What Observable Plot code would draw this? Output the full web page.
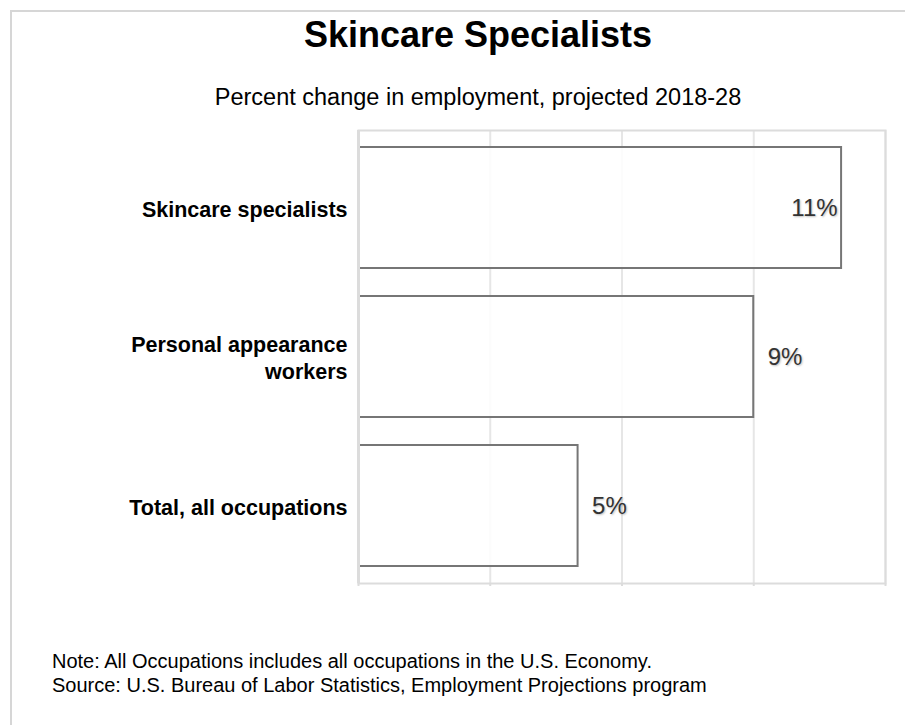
<!DOCTYPE html>
<html>
<head>
<meta charset="utf-8">
<script src="https://cdn.jsdelivr.net/npm/d3@7"></script>
<script src="https://cdn.jsdelivr.net/npm/@observablehq/plot@0.6"></script>
<style>
  html, body { margin: 0; padding: 0; background: #fff; }
  body { width: 905px; height: 725px; position: relative; overflow: hidden; font-family: "Liberation Sans", Arial, sans-serif; }
  #card { position: absolute; left: 10px; top: 10px; width: 905px; height: 725px; border-left: 2px solid #d6d6d6; border-top: 2px solid #d6d6d6; }
  #chart { position: absolute; left: 0; top: 0; }
  #title { position: absolute; left: 0; width: 956px; top: 14px; line-height: 42px; text-align: center; font-weight: bold; font-size: 36px; color: #000; }
  #subtitle { position: absolute; left: 0; width: 956px; top: 83px; line-height: 28px; text-align: center; font-size: 23.5px; color: #000; }
  #notes { position: absolute; left: 52px; top: 649px; font-size: 20px; line-height: 24px; color: #000; }
  .vals text { text-shadow: 1px 1px 2px rgba(0,0,0,0.25); }
</style>
</head>
<body>
<div id="card"></div>
<div id="chart"></div>
<div id="title"></div>
<div id="subtitle"></div>
<div id="notes"></div>
<script>
const titleText = "Skincare Specialists";
const subtitleText = "Percent change in employment, projected 2018-28";
const noteLines = [
  "Note: All Occupations includes all occupations in the U.S. Economy.",
  "Source: U.S. Bureau of Labor Statistics, Employment Projections program"
];
const categories = ["Skincare specialists", "Personal appearance\nworkers", "Total, all occupations"];
const values = [11, 9, 5];
const valueLabels = ["11%", "9%", "5%"];
const xTicks = [0, 3, 6, 9, 12];

document.getElementById("title").textContent = titleText;
document.getElementById("subtitle").textContent = subtitleText;
document.getElementById("notes").innerHTML = noteLines.map(s => `<div>${s}</div>`).join("");

const data = categories.map((c, i) => ({cat: c, value: values[i], label: valueLabels[i]}));
const inside = data.filter(d => d.value === d3.max(values));
const outside = data.filter(d => d.value !== d3.max(values));

const chart = Plot.plot({
  width: 905,
  height: 600,
  marginLeft: 358,
  marginRight: 20,
  marginTop: 130,
  marginBottom: 17,
  style: {fontFamily: "Liberation Sans, Arial, sans-serif", background: "transparent"},
  x: {domain: [0, 12], axis: null, label: null},
  y: {domain: categories, axis: null, label: null, paddingInner: 0.19, paddingOuter: 0.107},
  marks: [
    Plot.ruleX(xTicks, {stroke: "#e6e6e6", strokeWidth: 2}),
    Plot.axisX({ticks: xTicks, tickSize: 3, tickFormat: () => "", label: null, stroke: "#dcdcdc", strokeWidth: 2, strokeOpacity: 1}),
    Plot.barX(data, {x: "value", y: "cat", fill: "white", fillOpacity: 0.85, stroke: "#767676", strokeWidth: 2}),
    Plot.frame({stroke: "#dcdcdc", strokeWidth: 2}),
    Plot.ruleX([0], {stroke: "#dcdcdc", strokeWidth: 3}),
    Plot.text(data, {x: 0, y: "cat", text: "cat", textAnchor: "end", dx: -11, fontWeight: "bold", fontSize: 21.5, lineHeight: 1.26, fill: "#000"}),
    Plot.text(inside, {x: "value", y: "cat", text: "label", textAnchor: "end", dx: -4, fontSize: 24, fill: "#333", className: "vals"}),
    Plot.text(outside, {x: "value", y: "cat", text: "label", textAnchor: "start", dx: 14, fontSize: 24, fill: "#333", className: "vals"})
  ]
});
document.getElementById("chart").appendChild(chart);
</script>
</body>
</html>
